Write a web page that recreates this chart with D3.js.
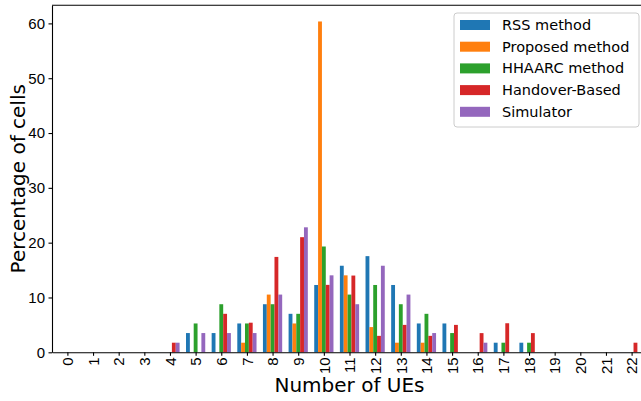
<!DOCTYPE html>
<html>
<head>
<meta charset="utf-8">
<script src="https://cdn.jsdelivr.net/npm/d3@7"></script>
<style>
  body { margin: 0; background: #fff; }
  svg { display: block; font-family: "DejaVu Sans", sans-serif; }
  .axis text { font-size: 15px; fill: #000; }
  .axis line, .axis path { stroke: #000; stroke-width: 1.1; }
</style>
</head>
<body>
<div id="chart"></div>
<script>
const width = 641;
const height = 401;

// data
const ues = d3.range(0, 23);
const seriesNames = ["RSS method", "Proposed method", "HHAARC method", "Handover-Based", "Simulator"];
const colors = ["#1f77b4", "#ff7f0e", "#2ca02c", "#d62728", "#9467bd"];

const rss      = [0, 0, 0, 0, 0, 3.51, 3.51, 5.26, 8.77, 7.02, 12.28, 15.79, 17.54, 12.28, 5.26, 5.26, 0, 1.75, 1.75, 0, 0, 0, 0];
const proposed = [0, 0, 0, 0, 0, 0, 0, 1.75, 10.53, 5.26, 60.35, 14.04, 4.6, 1.75, 1.75, 0, 0, 0, 0, 0, 0, 0, 0];
const hhaarc   = [0, 0, 0, 0, 0, 5.26, 8.77, 5.26, 8.77, 7.02, 19.3, 10.53, 12.28, 8.77, 7.02, 3.51, 0, 1.75, 1.75, 0, 0, 0, 0];
const handover = [0, 0, 0, 0, 1.75, 0, 7.02, 5.4, 17.4, 21.0, 12.3, 14.0, 3.0, 5.0, 3.0, 5.0, 3.5, 5.3, 3.5, 0, 0, 0, 1.75];
const simulator= [0, 0, 0, 0, 1.75, 3.51, 3.51, 3.51, 10.53, 22.8, 14.04, 8.77, 15.79, 10.53, 3.51, 0, 1.75, 0, 0, 0, 0, 0, 0];

const yTicks = [0, 10, 20, 30, 40, 50, 60];

const series = [rss, proposed, hhaarc, handover, simulator];

const padLeft = 52, padTop = 5.3, plotRight = 647, plotBottom = 352.3;
const barW = 0.15;

let svg = d3.select("#chart").append("svg")
    .attr("width", width)
    .attr("height", height);

let xScale = d3.scaleLinear()
    .domain([-0.6, 22.6])
    .range([padLeft, plotRight]);

let yScale = d3.scaleLinear()
    .domain([0, 63.3])
    .range([plotBottom, padTop]);

// bars
series.forEach((vals, k) => {
    svg.append("g")
        .selectAll("rect")
        .data(vals.map((v, i) => ({x: ues[i], v: v})).filter(d => d.v > 0))
        .join("rect")
            .attr("x", d => xScale(d.x + (k - 2) * barW - barW / 2))
            .attr("width", xScale(barW) - xScale(0))
            .attr("y", d => yScale(d.v))
            .attr("height", d => yScale(0) - yScale(d.v))
            .attr("fill", colors[k]);
});

// top spine
svg.append("line")
    .attr("x1", padLeft).attr("x2", plotRight)
    .attr("y1", padTop).attr("y2", padTop)
    .attr("stroke", "#000").attr("stroke-width", 1.1);

let xAxis = svg.append("g")
    .attr("class", "axis")
    .attr("transform", `translate(0,${plotBottom})`)
    .call(d3.axisBottom(xScale).tickValues(ues).tickSize(3.5).tickSizeOuter(0).tickFormat(d3.format("d")));

xAxis.selectAll("text")
    .attr("transform", "rotate(-90)")
    .attr("x", -5)
    .attr("y", 0)
    .attr("dy", "0.35em")
    .attr("text-anchor", "end");

let yAxis = svg.append("g")
    .attr("class", "axis")
    .attr("transform", `translate(${padLeft},0)`)
    .call(d3.axisLeft(yScale).tickValues(yTicks).tickSize(3.5).tickSizeOuter(0).tickPadding(3.5));

// axis titles
svg.append("text")
    .attr("x", (padLeft + plotRight) / 2)
    .attr("y", 392)
    .attr("text-anchor", "middle")
    .style("font-size", "20px")
    .text("Number of UEs");

svg.append("text")
    .attr("transform", `translate(25, ${(padTop + plotBottom) / 2}) rotate(-90)`)
    .attr("text-anchor", "middle")
    .style("font-size", "20px")
    .text("Percentage of cells");

// legend
let legend = svg.append("g").attr("transform", "translate(454,13)");
legend.append("rect")
    .attr("width", 185).attr("height", 114)
    .attr("rx", 3)
    .attr("fill", "#fff").attr("fill-opacity", 0.8)
    .attr("stroke", "#ccc").attr("stroke-width", 1);

seriesNames.forEach((name, k) => {
    let row = legend.append("g").attr("transform", `translate(0, ${12 + k * 21.7})`);
    row.append("rect")
        .attr("x", 6).attr("y", -5)
        .attr("width", 30).attr("height", 10)
        .attr("fill", colors[k]);
    row.append("text")
        .attr("x", 48)
        .attr("dy", "0.35em")
        .style("font-size", "14.5px")
        .text(name);
});
</script>
</body>
</html>
